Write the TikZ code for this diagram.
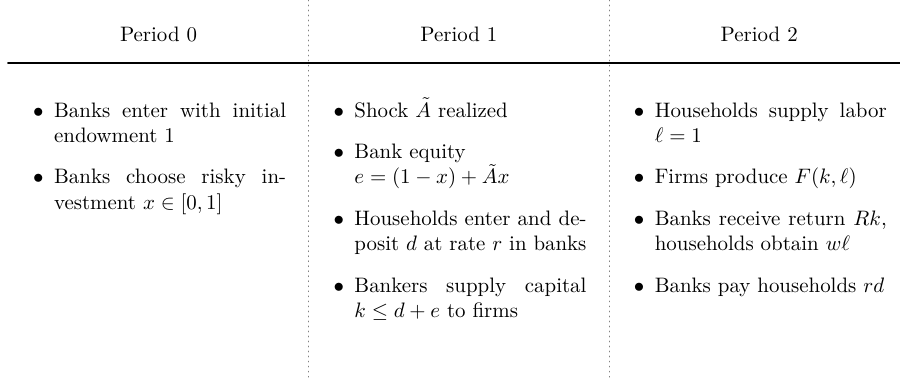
\documentclass[tikz,border=0pt]{standalone}
\newcommand{\pbullet}{\llap{$\bullet$\hskip5pt}}
\begin{document}
\begin{tikzpicture}[x=1pt, y=1pt, font=\normalsize, line cap=round,
	head/.style={anchor=base},
	task/.style={anchor=base west, text width=111pt, inner sep=0pt, align=justify}]
	\useasboundingbox (0,0) rectangle (430.6,-181.8);
	% rule and column separators
	\draw[thick] (3.8,-30.1)--(430.6,-30.1);
	\draw[dotted, gray] (147.7,0)--(147.7,-181.8);
	\draw[dotted, gray] (291.4,0)--(291.4,-181.8);
	% headers
	\path (75.85,-19.8) node[head] (p0) {Period 0};
	\path (219.55,-19.8) node[head] (p1) {Period 1};
	\path (363.25,-19.8) node[head] (p2) {Period 2};
	% period 0
	\path (25.7,-56) node[task] (a1) {\pbullet Banks enter with initial endowment 1};
	\path (25.7,-88) node[task] (a2) {\pbullet Banks choose risky investment $x\in[0,1]$};
	% period 1
	\path (169.4,-56) node[task] (b1) {\pbullet Shock $\tilde{A}$ realized};
	\path (169.4,-76) node[task] (b2) {\pbullet Bank equity\newline $e=(1-x)+\tilde{A}x$};
	\path (169.4,-108) node[task] (b3) {\pbullet Households enter and deposit $d$ at rate $r$ in banks};
	\path (169.4,-140) node[task] (b4) {\pbullet Bankers supply capital $k\le d+e$ to firms};
	% period 2
	\path (313.1,-56) node[task] (c1) {\pbullet Households supply labor $\ell=1$};
	\path (313.1,-88) node[task] (c2) {\pbullet Firms produce $F(k,\ell)$};
	\path (313.1,-108) node[task] (c3) {\pbullet Banks receive return $Rk$, households obtain $w\ell$};
	\path (313.1,-140) node[task] (c4) {\pbullet Banks pay households $rd$};
\end{tikzpicture}
\end{document}
